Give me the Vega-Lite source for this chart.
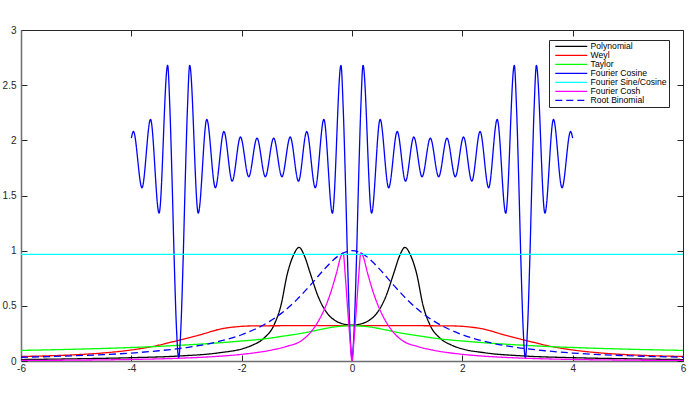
{
  "$schema": "https://vega.github.io/schema/vega-lite/v6.json",
  "width": 662,
  "height": 331,
  "autosize": {"type": "none"},
  "padding": {"left": 21, "top": 30, "right": 9, "bottom": 44},
  "background": "white",
  "config": {
    "view": {"stroke": null},
    "axis": {
      "labelFont": "Liberation Sans",
      "labelFontSize": 10,
      "labelColor": "#262626",
      "tickColor": "#262626",
      "tickSize": -6,
      "tickWidth": 1,
      "grid": false,
      "title": null,
      "labelFlush": false,
      "labelOverlap": false
    },
    "legend": {
      "orient": "none",
      "legendX": 528,
      "legendY": 10,
      "symbolType": "M-5.333,0H5.333",
      "symbolSize": 36,
      "symbolStrokeWidth": 1.3,
      "symbolOffset": 16,
      "labelOffset": 15,
      "labelFont": "Liberation Sans",
      "labelFontSize": 8.6,
      "labelColor": "#000000",
      "labelLimit": 200,
      "rowPadding": 0,
      "strokeColor": "#262626",
      "fillColor": "white",
      "padding": 2
    }
  },
  "data": {
    "values": [
      {"s": "Polynomial", "x": -6, "y": 0.013}, {"s": "Polynomial", "x": -5, "y": 0.02}, {"s": "Polynomial", "x": -4, "y": 0.03}, {"s": "Polynomial", "x": -3.14, "y": 0.045}, {"s": "Polynomial", "x": -2.4, "y": 0.075}, {"s": "Polynomial", "x": -1.96, "y": 0.115}, {"s": "Polynomial", "x": -1.8, "y": 0.145}, {"s": "Polynomial", "x": -1.6, "y": 0.205}, {"s": "Polynomial", "x": -1.41, "y": 0.33}, {"s": "Polynomial", "x": -1.29, "y": 0.5}, {"s": "Polynomial", "x": -1.17, "y": 0.795}, {"s": "Polynomial", "x": -1.06, "y": 0.96}, {"s": "Polynomial", "x": -0.96, "y": 1.03}, {"s": "Polynomial", "x": -0.86, "y": 0.95}, {"s": "Polynomial", "x": -0.76, "y": 0.8}, {"s": "Polynomial", "x": -0.61, "y": 0.58}, {"s": "Polynomial", "x": -0.46, "y": 0.44}, {"s": "Polynomial", "x": -0.3, "y": 0.365}, {"s": "Polynomial", "x": -0.15, "y": 0.335}, {"s": "Polynomial", "x": 0, "y": 0.325},
      {"s": "Polynomial", "x": 0.15, "y": 0.335}, {"s": "Polynomial", "x": 0.3, "y": 0.365}, {"s": "Polynomial", "x": 0.46, "y": 0.44}, {"s": "Polynomial", "x": 0.61, "y": 0.58}, {"s": "Polynomial", "x": 0.76, "y": 0.8}, {"s": "Polynomial", "x": 0.86, "y": 0.95}, {"s": "Polynomial", "x": 0.96, "y": 1.03}, {"s": "Polynomial", "x": 1.06, "y": 0.96}, {"s": "Polynomial", "x": 1.17, "y": 0.795}, {"s": "Polynomial", "x": 1.29, "y": 0.5}, {"s": "Polynomial", "x": 1.41, "y": 0.33}, {"s": "Polynomial", "x": 1.6, "y": 0.205}, {"s": "Polynomial", "x": 1.8, "y": 0.145}, {"s": "Polynomial", "x": 1.96, "y": 0.115}, {"s": "Polynomial", "x": 2.4, "y": 0.075}, {"s": "Polynomial", "x": 3.14, "y": 0.045}, {"s": "Polynomial", "x": 4, "y": 0.03}, {"s": "Polynomial", "x": 5, "y": 0.02}, {"s": "Polynomial", "x": 6, "y": 0.013},

      {"s": "Weyl", "x": -6, "y": 0.041}, {"s": "Weyl", "x": -5.5, "y": 0.047}, {"s": "Weyl", "x": -5, "y": 0.057}, {"s": "Weyl", "x": -4.5, "y": 0.073}, {"s": "Weyl", "x": -4, "y": 0.1}, {"s": "Weyl", "x": -3.6, "y": 0.133}, {"s": "Weyl", "x": -3.3, "y": 0.168}, {"s": "Weyl", "x": -3, "y": 0.205}, {"s": "Weyl", "x": -2.7, "y": 0.245}, {"s": "Weyl", "x": -2.4, "y": 0.288}, {"s": "Weyl", "x": -2.1, "y": 0.31}, {"s": "Weyl", "x": -1.8, "y": 0.318}, {"s": "Weyl", "x": -1, "y": 0.32}, {"s": "Weyl", "x": 0, "y": 0.32}, {"s": "Weyl", "x": 1, "y": 0.32}, {"s": "Weyl", "x": 1.8, "y": 0.318}, {"s": "Weyl", "x": 2.1, "y": 0.31}, {"s": "Weyl", "x": 2.4, "y": 0.288}, {"s": "Weyl", "x": 2.7, "y": 0.245}, {"s": "Weyl", "x": 3, "y": 0.205}, {"s": "Weyl", "x": 3.3, "y": 0.168}, {"s": "Weyl", "x": 3.6, "y": 0.133}, {"s": "Weyl", "x": 4, "y": 0.1}, {"s": "Weyl", "x": 4.5, "y": 0.073}, {"s": "Weyl", "x": 5, "y": 0.057}, {"s": "Weyl", "x": 5.5, "y": 0.047}, {"s": "Weyl", "x": 6, "y": 0.041},

      {"s": "Taylor", "x": -6, "y": 0.096}, {"s": "Taylor", "x": -5, "y": 0.107}, {"s": "Taylor", "x": -4.13, "y": 0.12}, {"s": "Taylor", "x": -3.66, "y": 0.129}, {"s": "Taylor", "x": -3.1, "y": 0.143}, {"s": "Taylor", "x": -2.6, "y": 0.158}, {"s": "Taylor", "x": -2.1, "y": 0.177}, {"s": "Taylor", "x": -1.6, "y": 0.2}, {"s": "Taylor", "x": -1.25, "y": 0.225}, {"s": "Taylor", "x": -0.87, "y": 0.255}, {"s": "Taylor", "x": -0.58, "y": 0.285}, {"s": "Taylor", "x": -0.3, "y": 0.31}, {"s": "Taylor", "x": 0, "y": 0.32}, {"s": "Taylor", "x": 0.3, "y": 0.31}, {"s": "Taylor", "x": 0.58, "y": 0.285}, {"s": "Taylor", "x": 0.87, "y": 0.255}, {"s": "Taylor", "x": 1.25, "y": 0.225}, {"s": "Taylor", "x": 1.6, "y": 0.2}, {"s": "Taylor", "x": 2.1, "y": 0.177}, {"s": "Taylor", "x": 2.6, "y": 0.158}, {"s": "Taylor", "x": 3.1, "y": 0.143}, {"s": "Taylor", "x": 3.66, "y": 0.129}, {"s": "Taylor", "x": 4.13, "y": 0.12}, {"s": "Taylor", "x": 5, "y": 0.107}, {"s": "Taylor", "x": 6, "y": 0.096},

      {"s": "Fourier Cosine", "x": -4, "y": 2.02}, {"s": "Fourier Cosine", "x": -3.962, "y": 2.08}, {"s": "Fourier Cosine", "x": -3.807, "y": 1.57}, {"s": "Fourier Cosine", "x": -3.652, "y": 2.19}, {"s": "Fourier Cosine", "x": -3.497, "y": 1.34}, {"s": "Fourier Cosine", "x": -3.342, "y": 2.68}, {"s": "Fourier Cosine", "x": -3.302, "y": 2.3}, {"s": "Fourier Cosine", "x": -3.262, "y": 1.65}, {"s": "Fourier Cosine", "x": -3.222, "y": 0.9}, {"s": "Fourier Cosine", "x": -3.182, "y": 0.3}, {"s": "Fourier Cosine", "x": -3.1416, "y": 0.03}, {"s": "Fourier Cosine", "x": -3.102, "y": 0.3}, {"s": "Fourier Cosine", "x": -3.062, "y": 0.9}, {"s": "Fourier Cosine", "x": -3.022, "y": 1.65}, {"s": "Fourier Cosine", "x": -2.982, "y": 2.3}, {"s": "Fourier Cosine", "x": -2.942, "y": 2.68}, {"s": "Fourier Cosine", "x": -2.787, "y": 1.34}, {"s": "Fourier Cosine", "x": -2.632, "y": 2.19}, {"s": "Fourier Cosine", "x": -2.477, "y": 1.57}, {"s": "Fourier Cosine", "x": -2.322, "y": 2.08}, {"s": "Fourier Cosine", "x": -2.172, "y": 1.63}, {"s": "Fourier Cosine", "x": -2.022, "y": 2.03}, {"s": "Fourier Cosine", "x": -1.872, "y": 1.67}, {"s": "Fourier Cosine", "x": -1.722, "y": 2.02}, {"s": "Fourier Cosine", "x": -1.571, "y": 1.67}, {"s": "Fourier Cosine", "x": -1.42, "y": 2.02}, {"s": "Fourier Cosine", "x": -1.27, "y": 1.67}, {"s": "Fourier Cosine", "x": -1.12, "y": 2.03}, {"s": "Fourier Cosine", "x": -0.97, "y": 1.63}, {"s": "Fourier Cosine", "x": -0.82, "y": 2.08}, {"s": "Fourier Cosine", "x": -0.665, "y": 1.57}, {"s": "Fourier Cosine", "x": -0.51, "y": 2.19}, {"s": "Fourier Cosine", "x": -0.355, "y": 1.34}, {"s": "Fourier Cosine", "x": -0.2, "y": 2.68}, {"s": "Fourier Cosine", "x": -0.16, "y": 2.3}, {"s": "Fourier Cosine", "x": -0.12, "y": 1.65}, {"s": "Fourier Cosine", "x": -0.08, "y": 0.9}, {"s": "Fourier Cosine", "x": -0.04, "y": 0.3}, {"s": "Fourier Cosine", "x": 0, "y": 0.03},
      {"s": "Fourier Cosine", "x": 0.04, "y": 0.3}, {"s": "Fourier Cosine", "x": 0.08, "y": 0.9}, {"s": "Fourier Cosine", "x": 0.12, "y": 1.65}, {"s": "Fourier Cosine", "x": 0.16, "y": 2.3}, {"s": "Fourier Cosine", "x": 0.2, "y": 2.68}, {"s": "Fourier Cosine", "x": 0.355, "y": 1.34}, {"s": "Fourier Cosine", "x": 0.51, "y": 2.19}, {"s": "Fourier Cosine", "x": 0.665, "y": 1.57}, {"s": "Fourier Cosine", "x": 0.82, "y": 2.08}, {"s": "Fourier Cosine", "x": 0.97, "y": 1.63}, {"s": "Fourier Cosine", "x": 1.12, "y": 2.03}, {"s": "Fourier Cosine", "x": 1.27, "y": 1.67}, {"s": "Fourier Cosine", "x": 1.42, "y": 2.02}, {"s": "Fourier Cosine", "x": 1.571, "y": 1.67}, {"s": "Fourier Cosine", "x": 1.722, "y": 2.02}, {"s": "Fourier Cosine", "x": 1.872, "y": 1.67}, {"s": "Fourier Cosine", "x": 2.022, "y": 2.03}, {"s": "Fourier Cosine", "x": 2.172, "y": 1.63}, {"s": "Fourier Cosine", "x": 2.322, "y": 2.08}, {"s": "Fourier Cosine", "x": 2.477, "y": 1.57}, {"s": "Fourier Cosine", "x": 2.632, "y": 2.19}, {"s": "Fourier Cosine", "x": 2.787, "y": 1.34}, {"s": "Fourier Cosine", "x": 2.942, "y": 2.68}, {"s": "Fourier Cosine", "x": 2.982, "y": 2.3}, {"s": "Fourier Cosine", "x": 3.022, "y": 1.65}, {"s": "Fourier Cosine", "x": 3.062, "y": 0.9}, {"s": "Fourier Cosine", "x": 3.102, "y": 0.3}, {"s": "Fourier Cosine", "x": 3.1416, "y": 0.03}, {"s": "Fourier Cosine", "x": 3.182, "y": 0.3}, {"s": "Fourier Cosine", "x": 3.222, "y": 0.9}, {"s": "Fourier Cosine", "x": 3.262, "y": 1.65}, {"s": "Fourier Cosine", "x": 3.302, "y": 2.3}, {"s": "Fourier Cosine", "x": 3.342, "y": 2.68}, {"s": "Fourier Cosine", "x": 3.497, "y": 1.34}, {"s": "Fourier Cosine", "x": 3.652, "y": 2.19}, {"s": "Fourier Cosine", "x": 3.807, "y": 1.57}, {"s": "Fourier Cosine", "x": 3.962, "y": 2.08}, {"s": "Fourier Cosine", "x": 4, "y": 2.02},

      {"s": "Fourier Sine/Cosine", "x": -6, "y": 0.967}, {"s": "Fourier Sine/Cosine", "x": 6, "y": 0.967},

      {"s": "Fourier Cosh", "x": -6, "y": 0.005}, {"s": "Fourier Cosh", "x": -5, "y": 0.008}, {"s": "Fourier Cosh", "x": -4, "y": 0.014}, {"s": "Fourier Cosh", "x": -3.14, "y": 0.025}, {"s": "Fourier Cosh", "x": -2.5, "y": 0.04}, {"s": "Fourier Cosh", "x": -1.97, "y": 0.062}, {"s": "Fourier Cosh", "x": -1.45, "y": 0.1}, {"s": "Fourier Cosh", "x": -1.2, "y": 0.13}, {"s": "Fourier Cosh", "x": -0.9, "y": 0.19}, {"s": "Fourier Cosh", "x": -0.75, "y": 0.26}, {"s": "Fourier Cosh", "x": -0.6, "y": 0.37}, {"s": "Fourier Cosh", "x": -0.5, "y": 0.47}, {"s": "Fourier Cosh", "x": -0.4, "y": 0.6}, {"s": "Fourier Cosh", "x": -0.28, "y": 0.8}, {"s": "Fourier Cosh", "x": -0.2, "y": 0.95}, {"s": "Fourier Cosh", "x": -0.16, "y": 0.98}, {"s": "Fourier Cosh", "x": -0.12, "y": 0.76}, {"s": "Fourier Cosh", "x": -0.08, "y": 0.48}, {"s": "Fourier Cosh", "x": -0.04, "y": 0.22}, {"s": "Fourier Cosh", "x": 0, "y": 0},
      {"s": "Fourier Cosh", "x": 0.04, "y": 0.22}, {"s": "Fourier Cosh", "x": 0.08, "y": 0.48}, {"s": "Fourier Cosh", "x": 0.12, "y": 0.76}, {"s": "Fourier Cosh", "x": 0.16, "y": 0.98}, {"s": "Fourier Cosh", "x": 0.2, "y": 0.95}, {"s": "Fourier Cosh", "x": 0.28, "y": 0.8}, {"s": "Fourier Cosh", "x": 0.4, "y": 0.6}, {"s": "Fourier Cosh", "x": 0.5, "y": 0.47}, {"s": "Fourier Cosh", "x": 0.6, "y": 0.37}, {"s": "Fourier Cosh", "x": 0.75, "y": 0.26}, {"s": "Fourier Cosh", "x": 0.9, "y": 0.19}, {"s": "Fourier Cosh", "x": 1.2, "y": 0.13}, {"s": "Fourier Cosh", "x": 1.45, "y": 0.1}, {"s": "Fourier Cosh", "x": 1.97, "y": 0.062}, {"s": "Fourier Cosh", "x": 2.5, "y": 0.04}, {"s": "Fourier Cosh", "x": 3.14, "y": 0.025}, {"s": "Fourier Cosh", "x": 4, "y": 0.014}, {"s": "Fourier Cosh", "x": 5, "y": 0.008}, {"s": "Fourier Cosh", "x": 6, "y": 0.005},

      {"s": "Root Binomial", "x": -6, "y": 0.034}, {"s": "Root Binomial", "x": -5.5, "y": 0.04}, {"s": "Root Binomial", "x": -5, "y": 0.048}, {"s": "Root Binomial", "x": -4.5, "y": 0.058}, {"s": "Root Binomial", "x": -4, "y": 0.072}, {"s": "Root Binomial", "x": -3.5, "y": 0.093}, {"s": "Root Binomial", "x": -3, "y": 0.122}, {"s": "Root Binomial", "x": -2.5, "y": 0.167}, {"s": "Root Binomial", "x": -2, "y": 0.238}, {"s": "Root Binomial", "x": -1.75, "y": 0.29}, {"s": "Root Binomial", "x": -1.5, "y": 0.357}, {"s": "Root Binomial", "x": -1.25, "y": 0.444}, {"s": "Root Binomial", "x": -1, "y": 0.556}, {"s": "Root Binomial", "x": -0.75, "y": 0.69}, {"s": "Root Binomial", "x": -0.5, "y": 0.833}, {"s": "Root Binomial", "x": -0.25, "y": 0.952}, {"s": "Root Binomial", "x": 0, "y": 1.0},
      {"s": "Root Binomial", "x": 0.25, "y": 0.952}, {"s": "Root Binomial", "x": 0.5, "y": 0.833}, {"s": "Root Binomial", "x": 0.75, "y": 0.69}, {"s": "Root Binomial", "x": 1, "y": 0.556}, {"s": "Root Binomial", "x": 1.25, "y": 0.444}, {"s": "Root Binomial", "x": 1.5, "y": 0.357}, {"s": "Root Binomial", "x": 1.75, "y": 0.29}, {"s": "Root Binomial", "x": 2, "y": 0.238}, {"s": "Root Binomial", "x": 2.5, "y": 0.167}, {"s": "Root Binomial", "x": 3, "y": 0.122}, {"s": "Root Binomial", "x": 3.5, "y": 0.093}, {"s": "Root Binomial", "x": 4, "y": 0.072}, {"s": "Root Binomial", "x": 4.5, "y": 0.058}, {"s": "Root Binomial", "x": 5, "y": 0.048}, {"s": "Root Binomial", "x": 5.5, "y": 0.04}, {"s": "Root Binomial", "x": 6, "y": 0.034}
    ]
  },
  "layer": [
    {
      "transform": [{"filter": "datum.s !== 'Fourier Sine/Cosine'"}],
      "mark": {"type": "line", "interpolate": "monotone", "strokeWidth": 1.3, "clip": true},
      "encoding": {
        "x": {"field": "x", "type": "quantitative", "scale": {"domain": [-6, 6], "nice": false, "zero": false},
              "axis": {"orient": "bottom", "values": [-6, -4, -2, 0, 2, 4, 6], "labelExpr": "'' + datum.value", "labelPadding": 8, "domainColor": "#6e6e6e", "domainWidth": 1.5}},
        "y": {"field": "y", "type": "quantitative", "scale": {"domain": [0, 3], "nice": false, "zero": false},
              "axis": {"orient": "left", "values": [0, 0.5, 1, 1.5, 2, 2.5, 3], "labelExpr": "'' + datum.value", "labelPadding": 11, "domainColor": "#6e6e6e", "domainWidth": 1.5}},
        "color": {"field": "s", "type": "nominal", "title": null,
                  "scale": {"domain": ["Polynomial", "Weyl", "Taylor", "Fourier Cosine", "Fourier Sine/Cosine", "Fourier Cosh", "Root Binomial"],
                            "range": ["#000000", "#ff0000", "#00ff00", "#0000ff", "#00ffff", "#ff00ff", "#0000ff"]}},
        "strokeDash": {"field": "s", "type": "nominal", "title": null,
                       "scale": {"domain": ["Polynomial", "Weyl", "Taylor", "Fourier Cosine", "Fourier Sine/Cosine", "Fourier Cosh", "Root Binomial"],
                                 "range": [[1, 0], [1, 0], [1, 0], [1, 0], [1, 0], [1, 0], [7, 4]]}}
      }
    },
    {
      "transform": [{"filter": "datum.s === 'Fourier Sine/Cosine'"}],
      "mark": {"type": "line", "strokeWidth": 1.3, "clip": true},
      "encoding": {
        "x": {"field": "x", "type": "quantitative",
              "axis": {"orient": "top", "values": [-6, -4, -2, 0, 2, 4, 6], "labels": false, "domainColor": "#262626", "domainWidth": 1}},
        "y": {"field": "y", "type": "quantitative",
              "axis": {"orient": "right", "values": [0, 0.5, 1, 1.5, 2, 2.5, 3], "labels": false, "domainColor": "#262626", "domainWidth": 1}},
        "color": {"field": "s", "type": "nominal", "title": null},
        "strokeDash": {"field": "s", "type": "nominal", "title": null}
      }
    }
  ],
  "resolve": {"axis": {"x": "independent", "y": "independent"}}
}
